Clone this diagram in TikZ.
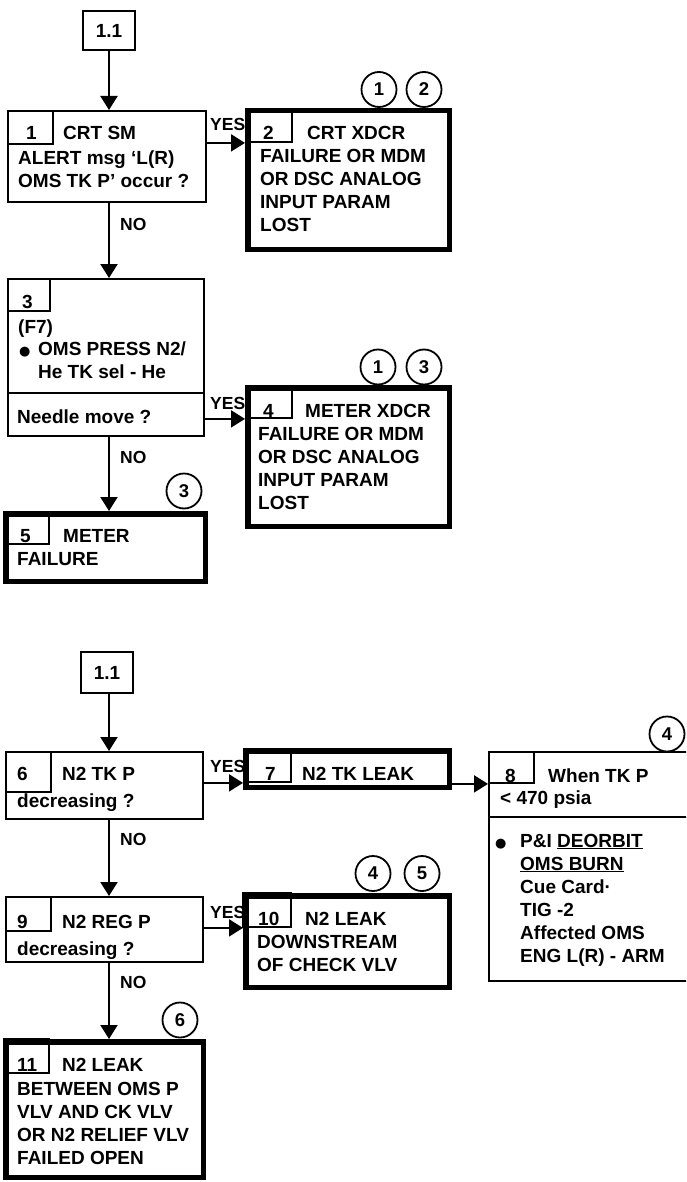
\documentclass[tikz,border=0pt]{standalone}
\usepackage{fontspec}
\setmainfont{Liberation Sans}
\newfontfamily\symfont{DejaVu Sans}
\usetikzlibrary{arrows.meta}
\newcommand\mltext[1]{\begin{tabular}[t]{@{}l@{}}#1\end{tabular}}
\newcommand\bul{{\symfont\fontsize{13}{13}\selectfont ●}}
\tikzset{
  thinbox/.style={draw, line width=2pt, inner sep=0pt, rectangle},
  thickbox/.style={draw, line width=5.5pt, inner sep=0pt, rectangle},
  tabbox/.style={draw, line width=1.8pt, inner sep=0pt, rectangle},
  num/.style={draw, circle, line width=1.8pt, minimum size=35pt, inner sep=0pt, font=\fontsize{18.5}{18.5}\selectfont\bfseries},
  txt/.style={anchor=base west, inner sep=0pt, font=\fontsize{19}{23}\selectfont\bfseries},
  lbl/.style={anchor=base west, inner sep=0pt, font=\fontsize{17.5}{20}\selectfont\bfseries},
  arr/.style={line width=2pt, -{Triangle[length=14pt,width=17pt]}},
  conn/.style={line width=2pt}
}
\begin{document}
\begin{tikzpicture}[x=1pt,y=-1pt]
\clip (0,0) rectangle (686,1182);
\fill[white] (0,0) rectangle (686,1182);

% ---------- upper chart ----------
\node[thinbox, minimum width=52pt, minimum height=39pt, font=\fontsize{19}{23}\selectfont\bfseries] (top1) at (109,30.5) {1.1};

\node[thinbox, minimum width=198pt, minimum height=91pt] (b1) at (107,156.5) {};
\node[tabbox, minimum width=45pt, minimum height=33pt] (t1) at (30.5,127.5) {};
\node[txt] (n1) at (26,140) {1};
\node[txt] (h1) at (63,140) {CRT SM};
\node[txt] (x1) at (18,165) {\mltext{ALERT msg ‘L(R)\\OMS TK P’ occur ?}};

\node[thickbox, minimum width=201.5pt, minimum height=138.5pt] (b2) at (348.5,180) {};
\node[tabbox, minimum width=46pt, minimum height=33pt] (t2) at (269,125.5) {};
\node[txt] (n2) at (263,140) {2};
\node[txt] (h2) at (307,140) {CRT XDCR};
\node[txt] (x2) at (260,163) {\mltext{FAILURE OR MDM\\OR DSC ANALOG\\INPUT PARAM\\LOST}};
\node[num] (c2a) at (379,89.5) {1};
\node[num] (c2b) at (424,89.5) {2};

\node[lbl] (yes1) at (210,131) {YES};
\node[lbl] (no1) at (120,230) {NO};

\node[thinbox, minimum width=196pt, minimum height=157pt] (b3) at (106,357.5) {};
\node[tabbox, minimum width=42pt, minimum height=32pt] (t3) at (29,295) {};
\draw[conn] (b3.west |- 0,393) -- (b3.east |- 0,393);
\node[txt] (n3) at (22,308) {3};
\node[txt] (x3a) at (18,333) {(F7)};
\node[anchor=base west, inner sep=0pt] (bu3) at (19,355) {\bul};
\node[txt] (x3b) at (38,355) {\mltext{OMS PRESS N2/\\He TK sel - He}};
\node[txt] (x3c) at (17,423) {Needle move ?};

\node[thickbox, minimum width=201.5pt, minimum height=138.5pt] (b4) at (348.5,457) {};
\node[tabbox, minimum width=46pt, minimum height=32pt] (t4) at (269,402) {};
\node[txt] (n4) at (263,417) {4};
\node[txt] (h4) at (305,417) {METER XDCR};
\node[txt] (x4) at (258,440) {\mltext{FAILURE OR MDM\\OR DSC ANALOG\\INPUT PARAM\\LOST}};
\node[num] (c4a) at (378,367) {1};
\node[num] (c4b) at (424,367) {3};

\node[lbl] (yes3) at (210,409) {YES};
\node[lbl] (no3) at (120,463) {NO};

\node[thickbox, minimum width=199.5pt, minimum height=67.5pt] (b5) at (105.5,547.5) {};
\node[tabbox, minimum width=45pt, minimum height=32pt] (t5) at (26.5,528) {};
\node[txt] (n5) at (20,542) {5};
\node[txt] (h5) at (63,542) {METER};
\node[txt] (x5) at (17,565) {FAILURE};
\node[num] (c5) at (184,491) {3};

\draw[arr] (top1.south) -- (top1.south |- b1.north);
\draw[arr] (b1.east |- t2.south) -- (b2.west |- t2.south);
\draw[arr] (top1.south |- b1.south) -- (top1.south |- b3.north);
\draw[arr] (b3.east |- t4.south) -- (b4.west |- t4.south);
\draw[arr] (top1.south |- b3.south) -- (top1.south |- b5.north);

% ---------- lower chart ----------
\node[thinbox, minimum width=52pt, minimum height=41pt, font=\fontsize{19}{23}\selectfont\bfseries] (top2) at (107,672.5) {1.1};

\node[thinbox, minimum width=197pt, minimum height=67pt] (b6) at (104.5,785.5) {};
\node[tabbox, minimum width=45pt, minimum height=40pt] (t6) at (28.5,772) {};
\node[txt] (n6) at (17,780) {6};
\node[txt] (h6) at (62,780) {N2 TK P};
\node[txt] (x6) at (17,807) {decreasing ?};

\node[thickbox, minimum width=203.5pt, minimum height=36.5pt] (b7) at (347.5,769) {};
\node[tabbox, minimum width=47pt, minimum height=33pt] (t7) at (267.5,765.5) {};
\node[txt] (n7) at (265,780) {7};
\node[txt] (h7) at (302,780) {N2 TK LEAK};

\node[lbl] (yes6) at (210,772) {YES};
\node[lbl] (no6) at (120,845) {NO};

\node[thinbox, minimum width=210pt, minimum height=229pt] (b8) at (594,866.5) {};
\node[tabbox, minimum width=45pt, minimum height=31pt] (t8) at (511.5,767.5) {};
\draw[conn] (b8.west |- 0,817) -- (b8.east |- 0,817);
\node[txt] (n8) at (505,782) {8};
\node[txt] (h8) at (548,782) {When TK P};
\node[txt] (x8a) at (500,804) {< 470 psia};
\node[anchor=base west, inner sep=0pt] (bu8) at (495,847) {\bul};
\node[txt] (x8b) at (520,847) {\mltext{P\&I \underline{DEORBIT}\\\underline{OMS BURN}\\Cue Card\textperiodcentered\\TIG -2\\Affected OMS\\ENG L(R) - ARM}};
\node[num] (c8) at (667,734) {4};

\node[thinbox, minimum width=197pt, minimum height=65pt] (b9) at (104.5,929.5) {};
\node[tabbox, minimum width=45pt, minimum height=34pt] (t9) at (28.5,914) {};
\node[txt] (n9) at (17,928) {9};
\node[txt] (h9) at (62,928) {N2 REG P};
\node[txt] (x9) at (17,955) {decreasing ?};

\node[thickbox, minimum width=203.5pt, minimum height=91.5pt] (b10) at (347.5,941.5) {};
\node[tabbox, minimum width=48pt, minimum height=34pt] (t10) at (267,910) {};
\node[txt] (n10) at (258,925) {10};
\node[txt] (h10) at (305,925) {N2 LEAK};
\node[txt] (x10) at (257,948) {\mltext{DOWNSTREAM\\OF CHECK VLV}};
\node[num] (c10a) at (373,873.5) {4};
\node[num] (c10b) at (422,873.5) {5};

\node[lbl] (yes9) at (210,918) {YES};
\node[lbl] (no9) at (120,988) {NO};

\node[thickbox, minimum width=197.5pt, minimum height=135.5pt] (b11) at (104.5,1109.5) {};
\node[tabbox, minimum width=45pt, minimum height=34pt] (t11) at (26.5,1056) {};
\node[txt] (n11) at (17,1071) {11};
\node[txt] (h11) at (62,1071) {N2 LEAK};
\node[txt] (x11) at (17,1095) {\mltext{BETWEEN OMS P\\VLV AND CK VLV\\OR N2 RELIEF VLV\\FAILED OPEN}};
\node[num] (c11) at (180,1020) {6};

\draw[arr] (top2.south -| 109,0) -- (109,0 |- b6.north);
\draw[arr] (b6.east |- t7.south) -- (b7.west |- t7.south);
\draw[arr] (b7.east |- t8.south) -- (b8.west |- t8.south);
\draw[arr] (109,0 |- b6.south) -- (109,0 |- b9.north);
\draw[arr] (b9.east |- t10.south) -- (b10.west |- t10.south);
\draw[arr] (109,0 |- b9.south) -- (109,0 |- b11.north);
\end{tikzpicture}
\end{document}
